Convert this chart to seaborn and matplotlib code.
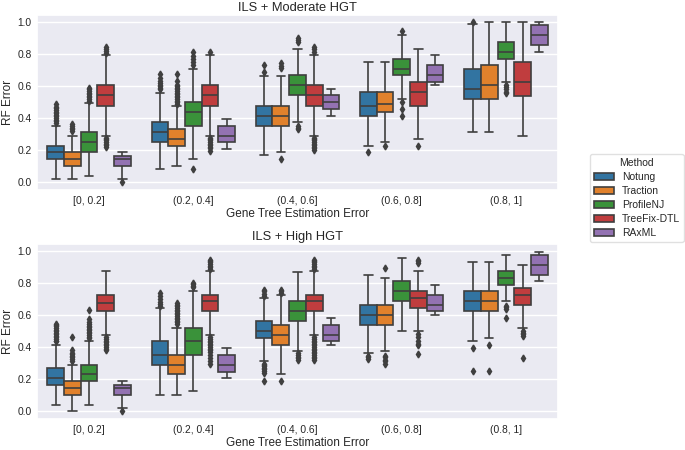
import numpy as np
import pandas as pd
import matplotlib
matplotlib.use("Agg")
import matplotlib.pyplot as plt
import seaborn as sns

categories = ["[0, 0.2]", "(0.2, 0.4]", "(0.4, 0.6]", "(0.6, 0.8]", "(0.8, 1]"]
methods = ["Notung", "Traction", "ProfileNJ", "TreeFix-DTL", "RAxML"]
panel_titles = ["ILS + Moderate HGT", "ILS + High HGT"]

# ---- ILS + Moderate HGT: box statistics per method, per category ----
mod_lo = {
    "Notung": [.02, .081, .17, .228, .311],
    "Traction": [.019, .102, .186, .248, .311],
    "ProfileNJ": [.04, .144, .374, .52, .626],
    "TreeFix-DTL": [.29, .29, .29, .269, .29],
    "RAxML": [.019, .207, .415, .605, .814],
}
mod_q1 = {
    "Notung": [.144, .248, .353, .415, .52],
    "Traction": [.102, .228, .353, .436, .52],
    "ProfileNJ": [.186, .353, .543, .668, .772],
    "TreeFix-DTL": [.478, .478, .478, .478, .541],
    "RAxML": [.102, .248, .457, .626, .856],
}
mod_med = {
    "Notung": [.186, .311, .415, .478, .585],
    "Traction": [.144, .269, .415, .489, .605],
    "ProfileNJ": [.248, .436, .605, .71, .814],
    "TreeFix-DTL": [.543, .543, .543, .564, .626],
    "RAxML": [.144, .29, .499, .668, .919],
}
mod_q3 = {
    "Notung": [.228, .374, .478, .564, .71],
    "Traction": [.186, .332, .478, .564, .731],
    "ProfileNJ": [.311, .499, .668, .772, .877],
    "TreeFix-DTL": [.605, .605, .605, .626, .752],
    "RAxML": [.165, .353, .543, .731, .981],
}
mod_hi = {
    "Notung": [.35, .56, .665, .752, .99],
    "Traction": [.29, .478, .665, .752, 1.0],
    "ProfileNJ": [.495, .71, .835, .919, 1.0],
    "TreeFix-DTL": [.795, .795, .795, .835, 1.0],
    "RAxML": [.186, .395, .582, .793, 1.0],
}
mod_out = {
    "Notung": [[.37, .38, .39, .40, .41, .42, .43, .44, .45, .46, .47, .486],
               [.58, .59, .60, .61, .62, .63, .65, .674],
               [.689, .733], [.186], [1.0]],
    "Traction": [[.32, .33, .34, .35, .363],
                 [.49, .50, .51, .52, .53, .54, .55, .56, .57, .58, .59, .60, .61, .63, .674],
                 [.144, .712, .725, .743], [.228], []],
    "ProfileNJ": [[.51, .52, .53, .54, .55, .56, .57, .58, .59],
                  [.081, .73, .75, .77, .79, .816],
                  [.33, .34, .35, .875, .89, .904], [.415, .457, .499, .942],
                  [.555, .565, .58, .595, .61]],
    "TreeFix-DTL": [[.217, .23, .24, .25, .26, .27, .278, .81, .82, .83, .843],
                    [.194, .21, .22, .23, .24, .25, .26, .27, .278, .816],
                    [.2, .21, .22, .23, .24, .25, .26, .27, .278, .816, .83, .843],
                    [.228], []],
    "RAxML": [[0.0], [], [], [], []],
}

# ---- ILS + High HGT ----
high_lo = {
    "Notung": [.04, .102, .312, .395, .44],
    "Traction": [.0, .102, .232, .374, .457],
    "ProfileNJ": [.04, .123, .375, .5, .686],
    "TreeFix-DTL": [.476, .476, .476, .499, .52],
    "RAxML": [.019, .208, .416, .603, .811],
}
high_q1 = {
    "Notung": [.164, .291, .457, .54, .624],
    "Traction": [.102, .229, .416, .54, .624],
    "ProfileNJ": [.185, .353, .561, .686, .79],
    "TreeFix-DTL": [.624, .624, .624, .644, .665],
    "RAxML": [.102, .247, .437, .624, .852],
}
high_med = {
    "Notung": [.208, .353, .499, .603, .686],
    "Traction": [.143, .291, .478, .603, .686],
    "ProfileNJ": [.229, .437, .624, .748, .832],
    "TreeFix-DTL": [.676, .686, .686, .707, .728],
    "RAxML": [.143, .291, .478, .665, .915],
}
high_q3 = {
    "Notung": [.27, .437, .561, .665, .748],
    "Traction": [.185, .353, .54, .665, .748],
    "ProfileNJ": [.291, .52, .686, .811, .873],
    "TreeFix-DTL": [.728, .728, .728, .748, .769],
    "RAxML": [.164, .353, .54, .728, .977],
}
high_hi = {
    "Notung": [.416, .645, .707, .85, .93],
    "Traction": [.291, .52, .725, .832, .93],
    "ProfileNJ": [.437, .748, .87, .956, .977],
    "TreeFix-DTL": [.873, .873, .873, .873, .915],
    "RAxML": [.185, .395, .582, .79, .998],
}
high_out = {
    "Notung": [[.435, .44, .45, .46, .47, .48, .49, .50, .51, .52, .53, .54, .547],
               [.66, .67, .68, .70, .72, .74],
               [.185, .24, .25, .26, .27, .28, .29, .295, .72, .735, .75, .76],
               [.324, .335, .345, .366], [.25, .395]],
    "Traction": [[.315, .325, .335, .345, .355, .365, .38, .46],
                 [.545, .555, .565, .575, .585, .595, .605, .615, .625, .635, .645, .655, .665, .676],
                 [.185, .74, .75, .76], [.297, .31, .32, .335, .345, .894], [.25, .416]],
    "ProfileNJ": [[.455, .465, .475, .485, .495, .505, .515, .525, .535, .545, .555, .574, .63],
                  [.775, .785, .795, .80],
                  [.32, .33, .34, .35, .36], [], [.582, .636, .65, .66]],
    "TreeFix-DTL": [[.38, .39, .40, .41, .42, .43, .44, .45, .46],
                    [.297, .31, .33, .35, .37, .38, .39, .40, .41, .42, .43, .44, .45, .46,
                     .89, .90, .91, .92, .93, .94, .948],
                    [.318, .33, .34, .35, .36, .37, .38, .39, .40, .41, .42, .43, .44, .45, .46,
                     .89, .90, .91, .92, .93, .94, .948],
                    [.355, .41, .42, .44, .46, .48, .927, .94, .948],
                    [.333, .47, .48, .49, .50]],
    "RAxML": [[0.0], [], [], [], []],
}

panels = [
    (mod_lo, mod_q1, mod_med, mod_q3, mod_hi, mod_out),
    (high_lo, high_q1, high_med, high_q3, high_hi, high_out),
]


def build_frame(lo, q1, med, q3, hi, out, m=60):
    """Build a long table whose quartiles/whiskers reproduce the read statistics."""
    rows = []
    for meth in methods:
        for i, cat in enumerate(categories):
            vals = list(out[meth][i]) + [lo[meth][i], hi[meth][i]]
            vals += [q1[meth][i]] * m + [med[meth][i]] * m + [q3[meth][i]] * m
            for v in vals:
                rows.append((cat, meth, v))
    return pd.DataFrame(rows, columns=["Gene Tree Estimation Error", "Method", "RF Error"])


sns.set_theme(style="darkgrid")
plt.rcParams["font.family"] = ["Liberation Sans", "DejaVu Sans"]

fig = plt.figure(figsize=(6.85, 4.5), dpi=100)
W, H = 685.0, 450.0
ax_boxes = [(37, 15, 558, 190), (37, 244, 558, 419)]
gray = "#3f3f3f"
palette = sns.color_palette("tab10", 5)

for k, (stats, (x0, y0, x1, y1)) in enumerate(zip(panels, ax_boxes)):
    ax = fig.add_axes([x0 / W, 1 - y1 / H, (x1 - x0) / W, (y1 - y0) / H])
    df = build_frame(*stats)
    sns.boxplot(data=df, x="Gene Tree Estimation Error", y="RF Error", hue="Method",
                order=categories, hue_order=methods, palette=palette, saturation=0.75,
                linecolor=gray, linewidth=1.2, fliersize=3.5,
                flierprops={"marker": "d", "markerfacecolor": gray, "markeredgecolor": gray},
                legend=(k == 0), ax=ax)
    ax.set_title(panel_titles[k], fontsize=9.3, pad=3)
    ax.set_xlabel("Gene Tree Estimation Error", fontsize=8.5, labelpad=2)
    ax.set_ylabel("RF Error", fontsize=8.5, labelpad=2)
    ax.set_ylim(-0.05, 1.045)
    ax.set_yticks([0.0, 0.2, 0.4, 0.6, 0.8, 1.0])
    ax.tick_params(axis="both", labelsize=7.4, length=0, pad=4)
    if k == 0:
        handles, labels = ax.get_legend_handles_labels()
        ax.get_legend().remove()

leg = fig.legend(handles, labels, title="Method", loc="upper left",
                 bbox_to_anchor=(590 / W, 1 - 154 / H), borderaxespad=0,
                 fontsize=7.5, title_fontsize=7.5, labelspacing=0.4,
                 handletextpad=0.7, borderpad=0.35,
                 frameon=True, facecolor="white", edgecolor="0.85")

fig.savefig("out.png", dpi=100)
